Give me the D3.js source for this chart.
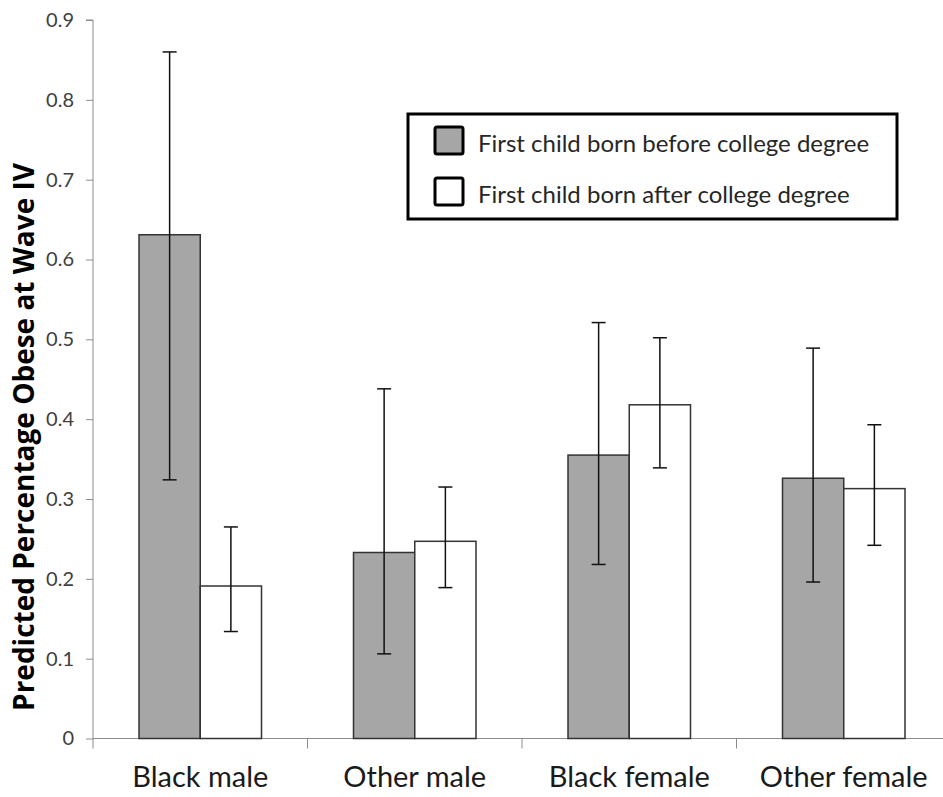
<!doctype html>
<html lang="en">
<head>
  <meta charset="utf-8">
  <title>Predicted Percentage Obese at Wave IV</title>
  <script src="https://cdn.jsdelivr.net/npm/d3@7"></script>
  <style>
    body { margin: 0; background: #fff; }
    text { font-family: Lato, "Open Sans", sans-serif; }
  </style>
</head>
<body>
  <div id="chart"></div>
<script>
  // data
  const categories = ['Black male', 'Other male', 'Black female', 'Other female'];
  const series = ['First child born before college degree', 'First child born after college degree'];
  const before = [0.631, 0.233, 0.355, 0.326];
  const beforeLow = [0.324, 0.106, 0.218, 0.196];
  const beforeHigh = [0.860, 0.438, 0.521, 0.489];
  const after = [0.191, 0.247, 0.418, 0.313];
  const afterLow = [0.134, 0.189, 0.339, 0.242];
  const afterHigh = [0.265, 0.315, 0.502, 0.393];
  const yTicks = [0, 0.1, 0.2, 0.3, 0.4, 0.5, 0.6, 0.7, 0.8, 0.9];
  const fills = ['#a6a6a6', '#ffffff'];

  const width = 943, height = 797;
  const margin = { top: 20, right: -8, bottom: 58, left: 93 };

  const svg = d3.select('#chart')
    .append('svg')
    .attr('width', width)
    .attr('height', height);

  const x0 = d3.scaleBand()
    .domain(categories)
    .range([margin.left, width - margin.right]);

  const x1 = d3.scaleBand()
    .domain(series)
    .range([46, x0.bandwidth() - 46]);

  const y = d3.scaleLinear()
    .domain([0, 0.9])
    .range([height - margin.bottom - 0.5, margin.top]);

  const rows = categories.map((c, i) => [
    { cat: c, s: series[0], v: before[i], lo: beforeLow[i], hi: beforeHigh[i], k: 0 },
    { cat: c, s: series[1], v: after[i], lo: afterLow[i], hi: afterHigh[i], k: 1 }
  ]);

  // y axis
  const yAxis = svg.append('g')
    .attr('transform', `translate(${margin.left},0)`)
    .call(d3.axisLeft(y).tickValues(yTicks).tickFormat(d => d === 0 ? '0' : d3.format('.1f')(d)).tickSize(7).tickPadding(12));
  yAxis.select('.domain').attr('stroke', '#8c8c8c').attr('d', `M-7,${y(0.9)}H0V${y(0) + 10}`);
  yAxis.selectAll('.tick line').attr('stroke', '#8c8c8c');
  yAxis.selectAll('.tick text')
    .attr('fill', '#404040')
    .style('font-size', '20px');

  // x axis baseline + category separators
  const xAxis = svg.append('g')
    .attr('transform', `translate(0,${y(0)})`);
  xAxis.append('line')
    .attr('x1', margin.left).attr('x2', width - margin.right)
    .attr('stroke', '#8c8c8c');
  xAxis.selectAll('.sep')
    .data(categories.slice(1).concat(['end']))
    .join('line')
    .attr('x1', d => d === 'end' ? x0.range()[1] : x0(d))
    .attr('x2', d => d === 'end' ? x0.range()[1] : x0(d))
    .attr('y1', 0).attr('y2', 10)
    .attr('stroke', '#8c8c8c');
  xAxis.selectAll('.cat')
    .data(categories)
    .join('text')
    .attr('x', d => x0(d) + x0.bandwidth() / 2)
    .attr('y', 48)
    .attr('text-anchor', 'middle')
    .attr('fill', '#1a1a1a')
    .style('font-size', '29px')
    .text(d => d);

  // bars
  const groups = svg.append('g')
    .selectAll('g')
    .data(rows)
    .join('g')
    .attr('transform', d => `translate(${x0(d[0].cat)},0)`);

  groups.selectAll('rect')
    .data(d => d)
    .join('rect')
    .attr('x', d => x1(d.s))
    .attr('y', d => y(d.v))
    .attr('width', x1.bandwidth())
    .attr('height', d => y(0) - y(d.v))
    .attr('fill', d => fills[d.k])
    .attr('stroke', '#333')
    .attr('stroke-width', 1.5);

  // error bars
  const err = groups.selectAll('g.err')
    .data(d => d)
    .join('g')
    .attr('class', 'err')
    .attr('transform', d => `translate(${x1(d.s) + x1.bandwidth() / 2},0)`)
    .attr('stroke', '#111')
    .attr('stroke-width', 1.5);
  err.append('line').attr('y1', d => y(d.lo)).attr('y2', d => y(d.hi));
  err.append('line').attr('x1', -7).attr('x2', 7).attr('y1', d => y(d.hi)).attr('y2', d => y(d.hi));
  err.append('line').attr('x1', -7).attr('x2', 7).attr('y1', d => y(d.lo)).attr('y2', d => y(d.lo));

  // y title
  svg.append('text')
    .attr('transform', `translate(34,437)rotate(-90)`)
    .attr('text-anchor', 'middle')
    .attr('fill', '#000')
    .style('font-family', '"Open Sans", sans-serif')
    .style('font-size', '28px')
    .style('font-weight', 'bold')
    .text('Predicted Percentage Obese at Wave IV');

  // legend
  const legend = svg.append('g').attr('transform', 'translate(408,114)');
  legend.append('rect')
    .attr('width', 489).attr('height', 105)
    .attr('fill', '#fff').attr('stroke', '#000').attr('stroke-width', 3);
  const li = legend.selectAll('g')
    .data(series)
    .join('g')
    .attr('transform', (d, i) => `translate(0,${13 + i * 51})`);
  li.append('rect')
    .attr('x', 27).attr('width', 28).attr('height', 27)
    .attr('fill', (d, i) => fills[i])
    .attr('stroke', '#000').attr('stroke-width', 3).attr('rx', 2);
  li.append('text')
    .attr('x', 70).attr('y', 25)
    .attr('fill', '#262626')
    .style('font-size', '24px')
    .text(d => d);
</script>
</body>
</html>
